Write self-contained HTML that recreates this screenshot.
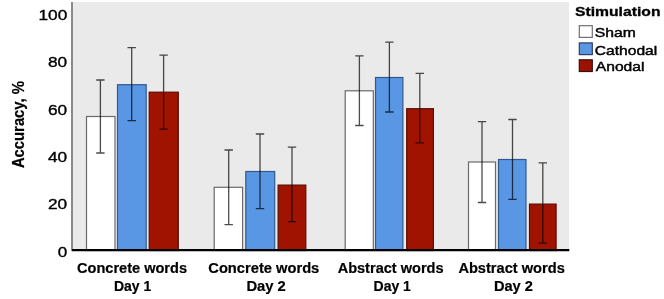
<!DOCTYPE html>
<html><head><meta charset="utf-8"><style>
html,body{margin:0;padding:0;background:#fff;}
body{width:664px;height:299px;overflow:hidden;}
svg{display:block;filter:blur(0.4px);}
text{font-family:"Liberation Sans",sans-serif;}
</style></head><body>
<svg width="664" height="299" viewBox="0 0 664 299">
<rect x="72" y="2" width="497" height="249" fill="#eaeaea"/>
<line x1="72" y1="2" x2="72" y2="251" stroke="#8a8a8a" stroke-width="2"/>
<rect x="86.5" y="116.5" width="28.5" height="134.0" fill="#ffffff" stroke="#6a6a6a" stroke-width="1.2"/>
<rect x="117.5" y="84.7" width="28.7" height="165.8" fill="#5996e4" stroke="#34598f" stroke-width="1.2"/>
<rect x="149.2" y="92.2" width="29.1" height="158.3" fill="#a01300" stroke="#5a0c06" stroke-width="1.2"/>
<rect x="214.2" y="187.3" width="28.4" height="63.2" fill="#ffffff" stroke="#6a6a6a" stroke-width="1.2"/>
<rect x="245.8" y="171.5" width="28.9" height="79.0" fill="#5996e4" stroke="#34598f" stroke-width="1.2"/>
<rect x="278.1" y="185.1" width="27.7" height="65.4" fill="#a01300" stroke="#5a0c06" stroke-width="1.2"/>
<rect x="345.2" y="90.8" width="28.1" height="159.7" fill="#ffffff" stroke="#6a6a6a" stroke-width="1.2"/>
<rect x="375.5" y="77.5" width="27.4" height="173.0" fill="#5996e4" stroke="#34598f" stroke-width="1.2"/>
<rect x="406.7" y="108.7" width="26.7" height="141.8" fill="#a01300" stroke="#5a0c06" stroke-width="1.2"/>
<rect x="468.5" y="162.0" width="27.0" height="88.5" fill="#ffffff" stroke="#6a6a6a" stroke-width="1.2"/>
<rect x="498.5" y="159.5" width="27.5" height="91.0" fill="#5996e4" stroke="#34598f" stroke-width="1.2"/>
<rect x="529.5" y="204.1" width="26.6" height="46.4" fill="#a01300" stroke="#5a0c06" stroke-width="1.2"/>
<path d="M100.4 80.0V153.0M96.2 80.0H104.6M96.2 153.0H104.6" stroke="#000" stroke-opacity="0.7" stroke-width="1.3" fill="none"/>
<path d="M131.7 47.6V120.7M127.5 47.6H135.9M127.5 120.7H135.9" stroke="#000" stroke-opacity="0.7" stroke-width="1.3" fill="none"/>
<path d="M163.6 55.1V129.1M159.4 55.1H167.8M159.4 129.1H167.8" stroke="#000" stroke-opacity="0.7" stroke-width="1.3" fill="none"/>
<path d="M228.7 150.0V224.7M224.5 150.0H232.9M224.5 224.7H232.9" stroke="#000" stroke-opacity="0.7" stroke-width="1.3" fill="none"/>
<path d="M260.0 134.0V208.7M255.8 134.0H264.2M255.8 208.7H264.2" stroke="#000" stroke-opacity="0.7" stroke-width="1.3" fill="none"/>
<path d="M292.0 147.2V221.7M287.8 147.2H296.2M287.8 221.7H296.2" stroke="#000" stroke-opacity="0.7" stroke-width="1.3" fill="none"/>
<path d="M359.4 55.8V125.5M355.2 55.8H363.6M355.2 125.5H363.6" stroke="#000" stroke-opacity="0.7" stroke-width="1.3" fill="none"/>
<path d="M389.4 42.2V112.0M385.2 42.2H393.6M385.2 112.0H393.6" stroke="#000" stroke-opacity="0.7" stroke-width="1.3" fill="none"/>
<path d="M419.8 73.3V142.8M415.6 73.3H424.0M415.6 142.8H424.0" stroke="#000" stroke-opacity="0.7" stroke-width="1.3" fill="none"/>
<path d="M482.0 121.6V202.5M477.8 121.6H486.2M477.8 202.5H486.2" stroke="#000" stroke-opacity="0.7" stroke-width="1.3" fill="none"/>
<path d="M512.5 119.5V199.4M508.3 119.5H516.7M508.3 199.4H516.7" stroke="#000" stroke-opacity="0.7" stroke-width="1.3" fill="none"/>
<path d="M542.8 162.9V243.2M538.6 162.9H547.0M538.6 243.2H547.0" stroke="#000" stroke-opacity="0.7" stroke-width="1.3" fill="none"/>
<line x1="72" y1="250.2" x2="569.3" y2="250.2" stroke="#000" stroke-width="2.2"/>
<g font-size="14" fill="#000" stroke="#000" stroke-width="0.35">
<text x="67.3" y="19.8" text-anchor="end" textLength="28.8" lengthAdjust="spacingAndGlyphs">100</text>
<text x="67.1" y="67.3" text-anchor="end" textLength="19.2" lengthAdjust="spacingAndGlyphs">80</text>
<text x="67.1" y="114.6" text-anchor="end" textLength="19.2" lengthAdjust="spacingAndGlyphs">60</text>
<text x="67.1" y="161.8" text-anchor="end" textLength="19.2" lengthAdjust="spacingAndGlyphs">40</text>
<text x="67.1" y="208.9" text-anchor="end" textLength="19.2" lengthAdjust="spacingAndGlyphs">20</text>
<text x="67.3" y="257" text-anchor="end" textLength="9.5" lengthAdjust="spacingAndGlyphs">0</text>
</g>
<g font-size="14" font-weight="bold" fill="#000" stroke="#000" stroke-width="0.2" text-anchor="middle" lengthAdjust="spacingAndGlyphs">
<text x="132" y="272.5" textLength="110" lengthAdjust="spacingAndGlyphs">Concrete words</text>
<text x="132.6" y="290.8">Day 1</text>
<text x="263.8" y="272.5" textLength="111" lengthAdjust="spacingAndGlyphs">Concrete words</text>
<text x="266.1" y="290.8" textLength="39.4" lengthAdjust="spacingAndGlyphs">Day 2</text>
<text x="390.6" y="272.5" textLength="105.9" lengthAdjust="spacingAndGlyphs">Abstract words</text>
<text x="392.2" y="290.8">Day 1</text>
<text x="511.6" y="272.5" textLength="106.4" lengthAdjust="spacingAndGlyphs">Abstract words</text>
<text x="513.4" y="290.8" textLength="39" lengthAdjust="spacingAndGlyphs">Day 2</text>
</g>
<text transform="translate(24.3,124.6) rotate(-90) scale(1,1.2)" textLength="87" lengthAdjust="spacingAndGlyphs" font-size="14" font-weight="bold" fill="#000" stroke="#000" stroke-width="0.2" text-anchor="middle">Accuracy, %</text>
<text x="575" y="15.9" font-size="13" font-weight="bold" fill="#000" stroke="#000" stroke-width="0.3" textLength="85.5" lengthAdjust="spacingAndGlyphs">Stimulation</text>
<rect x="579.3" y="25.7" width="13" height="11.7" fill="#fff" stroke="#707070" stroke-width="1.2"/>
<rect x="579.3" y="42.9" width="13" height="11.7" fill="#5a97e2" stroke="#2e3f5c" stroke-width="1.2"/>
<rect x="579.3" y="59.8" width="13" height="11.7" fill="#9c1202" stroke="#3a1010" stroke-width="1.2"/>
<g font-size="13" fill="#000" stroke="#000" stroke-width="0.45">
<text x="594.8" y="37.1" textLength="41" lengthAdjust="spacingAndGlyphs">Sham</text>
<text x="594.8" y="54.5" textLength="62.4" lengthAdjust="spacingAndGlyphs">Cathodal</text>
<text x="595.8" y="71.1" textLength="48.6" lengthAdjust="spacingAndGlyphs">Anodal</text>
</g>
</svg>
</body></html>
